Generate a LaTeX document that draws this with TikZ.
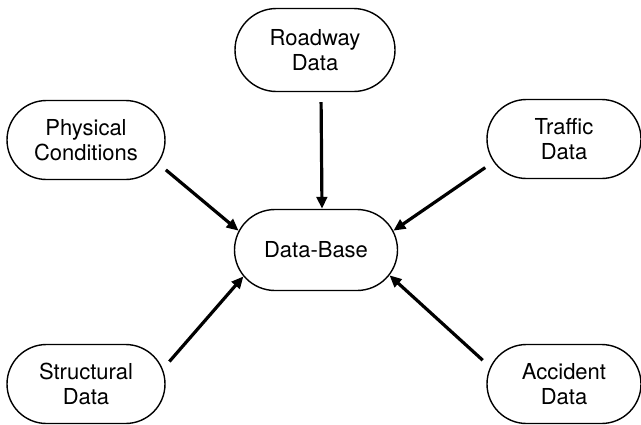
\documentclass[tikz,border=0pt]{standalone}
\usepackage{fontspec}
\setmainfont{TeX Gyre Heros}
\usetikzlibrary{shapes.misc,arrows.meta}

\begin{document}
\begin{tikzpicture}[x=1pt,y=-1pt,
    box/.style={draw,line width=1.4pt,rounded rectangle,inner sep=0pt,
                minimum width=158pt,minimum height=79pt,align=center,
                font=\fontsize{22}{25}\selectfont},
    feed/.style={line width=3.2pt,-{Triangle[length=12pt,width=10.5pt]},
                 shorten <=10pt}]
  \useasboundingbox (0,0) rectangle (641,424);

  \node[box,minimum width=160pt,minimum height=83pt] (road) at (315,50) {Roadway\\Data};
  \node[box] (phys) at (86,140) {Physical\\Conditions};
  \node[box,minimum width=154pt] (traf) at (564,139) {Traffic\\Data};
  \node[box,minimum width=163pt,minimum height=81pt] (db) at (316,250) {Data-Base};
  \node[box] (struc) at (86,384) {Structural\\Data};
  \node[box,minimum width=154pt] (acc) at (564,384) {Accident\\Data};

  \draw[feed] ([xshift=6pt]road.south) -- ([xshift=6pt]db.north);
  \draw[feed] (phys.-18) -- (db.166);
  \draw[feed] (struc.11) -- (db.200);
  \draw[feed] (traf.198) -- (db.14);
  \draw[feed] (acc.167) -- (db.-19);
\end{tikzpicture}
\end{document}
